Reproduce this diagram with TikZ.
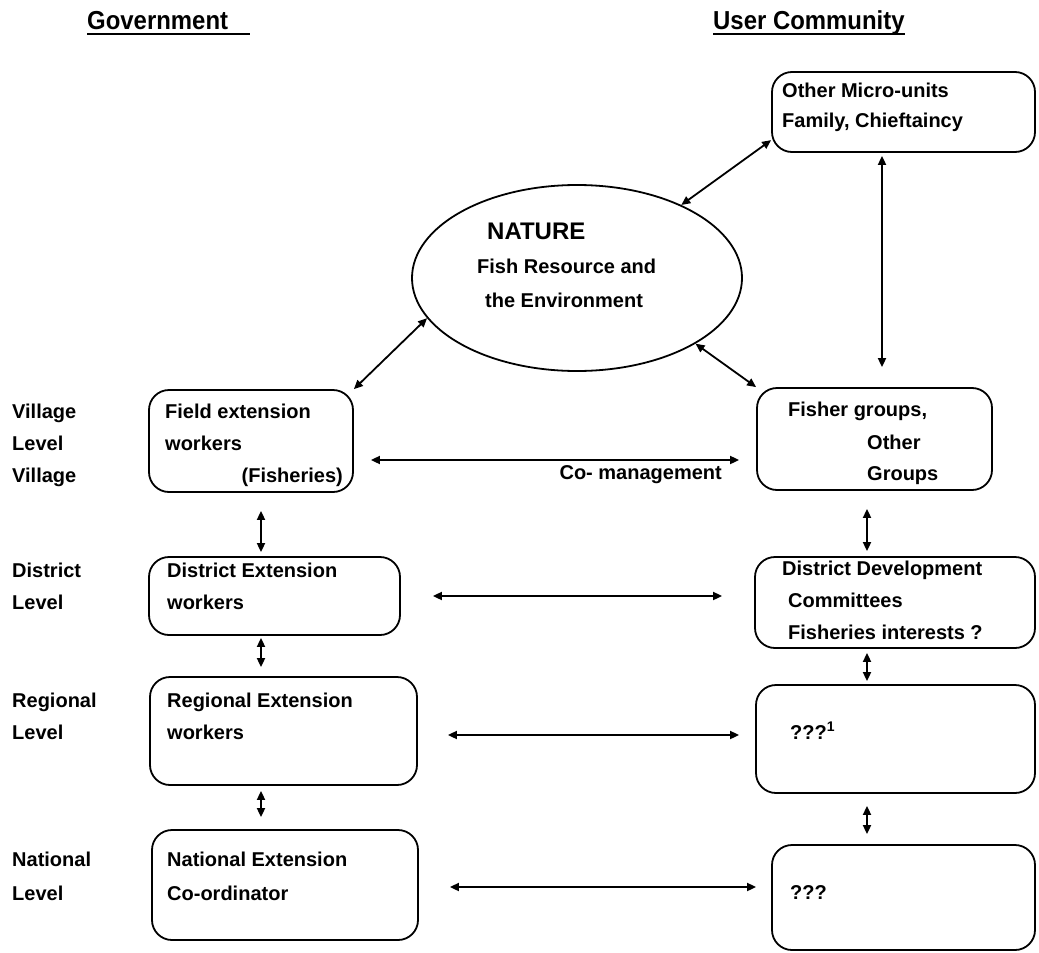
\documentclass[tikz,border=0pt]{standalone}
\usepackage{fontspec}
\setmainfont{Liberation Sans}
\newfontfamily\titlefont{Liberation Sans}[FakeStretch=0.92]
\usetikzlibrary{arrows.meta,shapes.geometric}

\begin{document}
\begin{tikzpicture}[x=1pt, y=-1pt,
  box/.style={draw, line width=1.8pt, rounded corners=20pt, inner sep=0pt},
  oval/.style={draw, line width=1.8pt, ellipse, inner sep=0pt},
  txt/.style={anchor=base west, inner sep=0pt, font=\fontsize{20}{24}\selectfont\bfseries},
  txtr/.style={txt, anchor=base east},
  heading/.style={anchor=base west, inner sep=0pt, font=\titlefont\fontsize{26}{30}\selectfont\bfseries},
  rule/.style={line width=2.5pt},
  biarrow/.style={line width=1.8pt, {Triangle[length=9pt,width=8pt]}-{Triangle[length=9pt,width=8pt]}},
]
\useasboundingbox (0,0) rectangle (1039,953);

% column headings
\node[heading] (gov) at (87,29) {Government};
\node[heading] (usr) at (713,29) {User Community};
\draw[rule] ([yshift=-5pt]gov.base west) -- ++(163,0);
\draw[rule] ([yshift=-5pt]usr.base west) -- ([yshift=-5pt]usr.base east);

% nature in the middle
\node[oval, minimum width=330pt, minimum height=186pt] (nature) at (577,278) {};
\node[txt, font=\fontsize{24}{28}\selectfont\bfseries] (natT) at (487,239) {NATURE};
\node[txt] (natA) at (477,273) {Fish Resource and};
\node[txt] (natB) at (485,307) {the Environment};

% user community column
\node[box, minimum width=263pt, minimum height=80pt] (micro) at (903.5,112) {};
\node[txt] (microA) at (782,97) {Other Micro-units};
\node[txt] (microB) at (782,127) {Family, Chieftaincy};

\node[box, minimum width=235pt, minimum height=102pt] (fisher) at (874.5,439) {};
\node[txt] (fisherA) at (788,416) {Fisher groups,};
\node[txt] (fisherB) at (867,449) {Other};
\node[txt] (fisherC) at (867,480) {Groups};

\node[box, minimum width=280pt, minimum height=91pt] (ddc) at (895,602.5) {};
\node[txt] (ddcA) at (782,575) {District Development};
\node[txt] (ddcB) at (788,607) {Committees};
\node[txt] (ddcC) at (788,639) {Fisheries interests ?};

\node[box, minimum width=279pt, minimum height=108pt] (regq) at (895.5,739) {};
\node[txt] (regqA) at (790,739) {???\textsuperscript{1}};

\node[box, minimum width=263pt, minimum height=105pt] (natq) at (903.5,897.5) {};
\node[txt] (natqA) at (790,899) {???};

% government column
\node[box, minimum width=204pt, minimum height=102pt] (field) at (251,441) {};
\node[txt] (fieldA) at (165,418) {Field extension};
\node[txt] (fieldB) at (165,450) {workers};
\node[txtr] (fieldC) at (343,482) {(Fisheries)};

\node[box, minimum width=251pt, minimum height=78pt] (district) at (274.5,596) {};
\node[txt] (districtA) at (167,577) {District Extension};
\node[txt] (districtB) at (167,609) {workers};

\node[box, minimum width=267pt, minimum height=108pt] (regional) at (283.5,731) {};
\node[txt] (regionalA) at (167,707) {Regional Extension};
\node[txt] (regionalB) at (167,739) {workers};

\node[box, minimum width=266pt, minimum height=110pt] (national) at (285,885) {};
\node[txt] (nationalA) at (167,866) {National Extension};
\node[txt] (nationalB) at (167,900) {Co-ordinator};

% level labels
\node[txt] (lv1) at (12,418) {Village};
\node[txt] (lv2) at (12,450) {Level};
\node[txt] (lv3) at (12,482) {Village};
\node[txt] (ld1) at (12,577) {District};
\node[txt] (ld2) at (12,609) {Level};
\node[txt] (lr1) at (12,707) {Regional};
\node[txt] (lr2) at (12,739) {Level};
\node[txt] (ln1) at (12,866) {National};
\node[txt] (ln2) at (12,900) {Level};

\node[txtr] (comgmt) at (722,479) {Co- management};

% helper coordinates for arrow lines
\coordinate (gx) at (261,0);
\coordinate (ux) at (867,0);
\coordinate (mx) at (882,0);
\coordinate (rowCM) at (0,460);
\coordinate (rowD) at (0,596);
\coordinate (rowR) at (0,735);
\coordinate (rowN) at (0,887);

% links with nature
\draw[biarrow] (nature.35) -- (micro.192);
\draw[biarrow] (nature.195) -- (field.north east);
\draw[biarrow] (nature.331) -- (fisher.north west);
\draw[biarrow, shorten <=3pt, shorten >=20pt] (micro.south -| mx) -- (fisher.north -| mx);

% horizontal links between the two sides
\draw[biarrow, shorten <=17pt, shorten >=17pt] (field.east |- rowCM) -- (fisher.west |- rowCM);
\draw[biarrow, shorten <=32pt, shorten >=32pt] (district.east |- rowD) -- (ddc.west |- rowD);
\draw[biarrow, shorten <=30pt, shorten >=16pt] (regional.east |- rowR) -- (regq.west |- rowR);
\draw[biarrow, shorten <=31pt, shorten >=15pt] (national.east |- rowN) -- (natq.west |- rowN);

% vertical links, government side
\draw[biarrow, shorten <=18pt, shorten >=4pt] (field.south -| gx) -- (district.north -| gx);
\draw[biarrow, shorten <=2pt, shorten >=9pt] (district.south -| gx) -- (regional.north -| gx);
\draw[biarrow, shorten <=5pt, shorten >=12pt] (regional.south -| gx) -- (national.north -| gx);

% vertical links, user community side
\draw[biarrow, shorten <=18pt, shorten >=5pt] (fisher.south -| ux) -- (ddc.north -| ux);
\draw[biarrow, shorten <=4pt, shorten >=3pt] (ddc.south -| ux) -- (regq.north -| ux);
\draw[biarrow, shorten <=12pt, shorten >=10pt] (regq.south -| ux) -- (natq.north -| ux);
\end{tikzpicture}
\end{document}
